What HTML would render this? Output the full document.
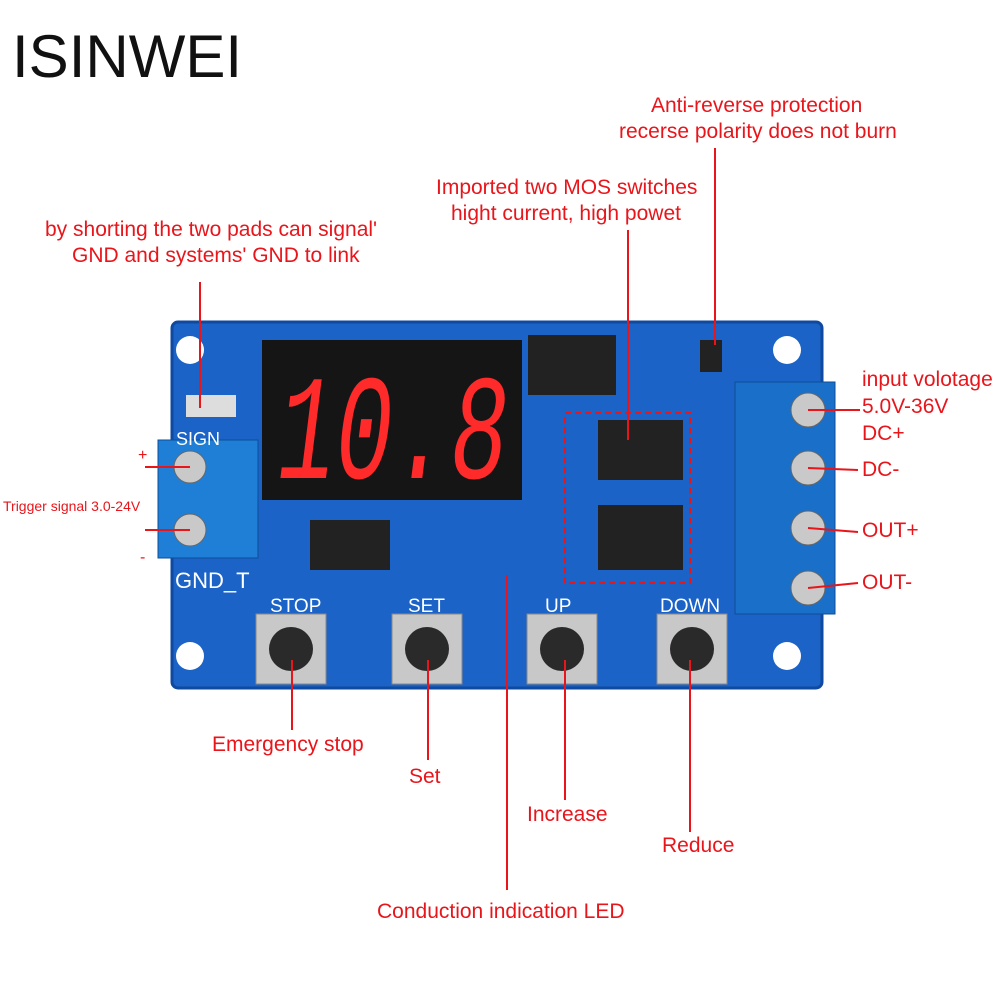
<!DOCTYPE html>
<html><head><meta charset="utf-8"><style>
body{margin:0;width:1000px;height:1000px;background:#fff;position:relative;overflow:hidden;font-family:"Liberation Sans","DejaVu Sans",sans-serif}
.a{position:absolute}
.t{position:absolute;color:#e8151b;font-size:21px;white-space:nowrap}
</style></head><body>
<div class="a" style="left:12px;top:22px;font-size:60px;color:#111">ISINWEI</div>

<svg class="a" style="left:0;top:0" width="1000" height="1000">
<rect x="172" y="322" width="650" height="366" rx="6" fill="#1b63c6"/>
<rect x="172" y="322" width="650" height="366" rx="6" fill="none" stroke="#0f4aa0" stroke-width="3"/>
<g fill="#fff"><circle cx="190" cy="350" r="14"/><circle cx="787" cy="350" r="14"/><circle cx="190" cy="656" r="14"/><circle cx="787" cy="656" r="14"/></g>
<rect x="262" y="340" width="260" height="160" fill="#151515"/>
<text x="278" y="478" font-family="Liberation Mono,monospace" font-size="150" fill="#ff2a2a" font-style="italic" textLength="230" lengthAdjust="spacingAndGlyphs">10.8</text>
<rect x="158" y="440" width="100" height="118" fill="#1f7fd6" stroke="#0d4e9a"/>
<circle cx="190" cy="467" r="16" fill="#c9c9c9" stroke="#666"/><circle cx="190" cy="530" r="16" fill="#c9c9c9" stroke="#666"/>
<rect x="735" y="382" width="100" height="232" fill="#1a6fc8" stroke="#0d4e9a"/>
<g fill="#c9c9c9" stroke="#666"><circle cx="808" cy="410" r="17"/><circle cx="808" cy="468" r="17"/><circle cx="808" cy="528" r="17"/><circle cx="808" cy="588" r="17"/></g>
<rect x="528" y="335" width="88" height="60" fill="#222"/>
<rect x="310" y="520" width="80" height="50" fill="#222"/>
<rect x="598" y="420" width="85" height="60" fill="#222"/>
<rect x="598" y="505" width="85" height="65" fill="#222"/>
<rect x="700" y="340" width="22" height="32" fill="#222"/>
<rect x="186" y="395" width="50" height="22" fill="#ddd"/>
<rect x="565" y="413" width="125" height="170" fill="none" stroke="#e8151b" stroke-width="2" stroke-dasharray="6,4"/>
<g>
<rect x="256" y="614" width="70" height="70" fill="#c8c8c8" stroke="#888"/><circle cx="291" cy="649" r="22" fill="#2a2a2a"/>
<rect x="392" y="614" width="70" height="70" fill="#c8c8c8" stroke="#888"/><circle cx="427" cy="649" r="22" fill="#2a2a2a"/>
<rect x="527" y="614" width="70" height="70" fill="#c8c8c8" stroke="#888"/><circle cx="562" cy="649" r="22" fill="#2a2a2a"/>
<rect x="657" y="614" width="70" height="70" fill="#c8c8c8" stroke="#888"/><circle cx="692" cy="649" r="22" fill="#2a2a2a"/>
</g>
<g fill="#fff" font-size="19" font-family="Liberation Sans,sans-serif">
<text x="270" y="612">STOP</text><text x="408" y="612">SET</text><text x="545" y="612">UP</text><text x="660" y="612">DOWN</text>
<text x="175" y="588" font-size="22">GND_T</text><text x="176" y="445" font-size="18">SIGN</text>
</g>
<g stroke="#e8151b" stroke-width="2">
<line x1="200" y1="282" x2="200" y2="408"/>
<line x1="715" y1="148" x2="715" y2="345"/>
<line x1="628" y1="230" x2="628" y2="440"/>
<line x1="145" y1="467" x2="190" y2="467"/>
<line x1="145" y1="530" x2="190" y2="530"/>
<line x1="808" y1="410" x2="860" y2="410"/>
<line x1="808" y1="468" x2="858" y2="470"/>
<line x1="808" y1="528" x2="858" y2="532"/>
<line x1="808" y1="588" x2="858" y2="583"/>
<line x1="292" y1="660" x2="292" y2="730"/>
<line x1="428" y1="660" x2="428" y2="760"/>
<line x1="565" y1="660" x2="565" y2="800"/>
<line x1="690" y1="660" x2="690" y2="832"/>
<line x1="507" y1="575" x2="507" y2="890"/>
</g>
</svg>

<div class="t" style="left:45px;top:218px">by shorting the two pads can signal'</div>
<div class="t" style="left:72px;top:244px">GND and systems' GND to link</div>
<div class="t" style="left:651px;top:94px">Anti-reverse protection</div>
<div class="t" style="left:619px;top:120px">recerse polarity does not burn</div>
<div class="t" style="left:436px;top:176px">Imported two MOS switches</div>
<div class="t" style="left:451px;top:202px">hight current, high powet</div>
<div class="t" style="left:862px;top:368px">input volotage</div>
<div class="t" style="left:862px;top:395px">5.0V-36V</div>
<div class="t" style="left:862px;top:422px">DC+</div>
<div class="t" style="left:862px;top:458px">DC-</div>
<div class="t" style="left:862px;top:519px">OUT+</div>
<div class="t" style="left:862px;top:571px">OUT-</div>
<div class="t" style="left:138px;top:447px;font-size:16px">+</div>
<div class="t" style="left:140px;top:549px;font-size:16px">-</div>
<div class="t" style="left:3px;top:498px;font-size:14px">Trigger signal 3.0-24V</div>
<div class="t" style="left:212px;top:733px">Emergency stop</div>
<div class="t" style="left:409px;top:765px">Set</div>
<div class="t" style="left:527px;top:803px">Increase</div>
<div class="t" style="left:662px;top:834px">Reduce</div>
<div class="t" style="left:377px;top:900px">Conduction indication LED</div>
</body></html>
